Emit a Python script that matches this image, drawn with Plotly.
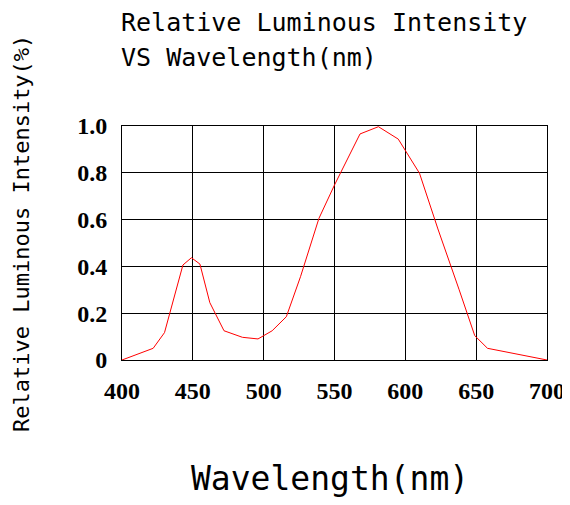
import plotly.graph_objects as go

# Data
wavelength = [400, 422, 430, 443, 449, 455, 462, 472, 485, 496, 506, 516,
              526, 539, 550, 568, 581, 595, 610, 623, 638, 649, 658, 700]
intensity = [0.0, 0.05, 0.117, 0.406, 0.437, 0.41, 0.245, 0.125, 0.097, 0.09, 0.125, 0.185,
             0.356, 0.605, 0.748, 0.966, 0.997, 0.944, 0.798, 0.56, 0.3, 0.104, 0.05, 0.0]

x_ticks = [400, 450, 500, 550, 600, 650, 700]
y_ticks = [0, 0.2, 0.4, 0.6, 0.8, 1.0]
y_tick_text = ["0", "0.2", "0.4", "0.6", "0.8", "1.0"]

title_lines = ["Relative Luminous Intensity", "VS Wavelength(nm)"]
x_title = "Wavelength(nm)"
y_title = "Relative Luminous Intensity(%)"

# page offset (body margin) compensated; keep page from overflowing the window
OFF = 8
W, H = 570 - OFF, 505 - 2 * OFF
L, T = 122 - OFF, 126 - OFF
PW, PH = 425, 234
R = W - L - PW
B = H - T - PH


def px_x(px):
    return (px - OFF - L) / PW


def px_y(py):
    return (T + PH - (py - OFF)) / PH


mono = "DejaVu Sans Mono"
tickfont = dict(family="Liberation Serif", size=24, color="black", weight="bold")

fig = go.Figure()
fig.add_trace(go.Scatter(x=wavelength, y=intensity, mode="lines",
                         line=dict(color="red", width=1), showlegend=False,
                         cliponaxis=False))

fig.update_layout(
    width=W, height=H,
    margin=dict(l=L, r=R, t=T, b=B, autoexpand=False),
    paper_bgcolor="white", plot_bgcolor="white",
    xaxis=dict(range=[400, 700], tickvals=x_ticks, ticktext=[str(v) for v in x_ticks],
               showgrid=True, gridcolor="black", gridwidth=1, automargin=False,
               showline=True, linecolor="black", linewidth=1, mirror=True,
               zeroline=False, ticks="", tickfont=tickfont, ticklabelstandoff=9,
               ticklabeloverflow="allow"),
    yaxis=dict(range=[0, 1.0], tickvals=y_ticks, ticktext=y_tick_text,
               showgrid=True, gridcolor="black", gridwidth=1, automargin=False,
               showline=True, linecolor="black", linewidth=1, mirror=True,
               zeroline=False, ticks="", tickfont=tickfont, ticklabelstandoff=9,
               ticklabeloverflow="allow"),
)

annotations = [
    dict(text=title_lines[0], x=px_x(119), y=px_y(22), xref="paper", yref="paper",
         xanchor="left", yanchor="middle", showarrow=False,
         font=dict(family=mono, size=25, color="black")),
    dict(text=title_lines[1], x=px_x(119), y=px_y(58), xref="paper", yref="paper",
         xanchor="left", yanchor="middle", showarrow=False,
         font=dict(family=mono, size=25, color="black")),
    dict(text=x_title, x=px_x(330), y=px_y(478), xref="paper", yref="paper",
         xanchor="center", yanchor="middle", showarrow=False,
         font=dict(family=mono, size=33, color="black")),
    dict(text=y_title, x=px_x(21), y=px_y(234), xref="paper", yref="paper",
         xanchor="center", yanchor="middle", showarrow=False, textangle=-90,
         font=dict(family=mono, size=22, color="black")),
]
fig.update_layout(annotations=annotations)

# let the last tick label draw outside the svg box instead of being clipped
fig.write_html("out.html",
               post_script="document.querySelectorAll('svg.main-svg').forEach(function(s){s.style.overflow='visible';});")
